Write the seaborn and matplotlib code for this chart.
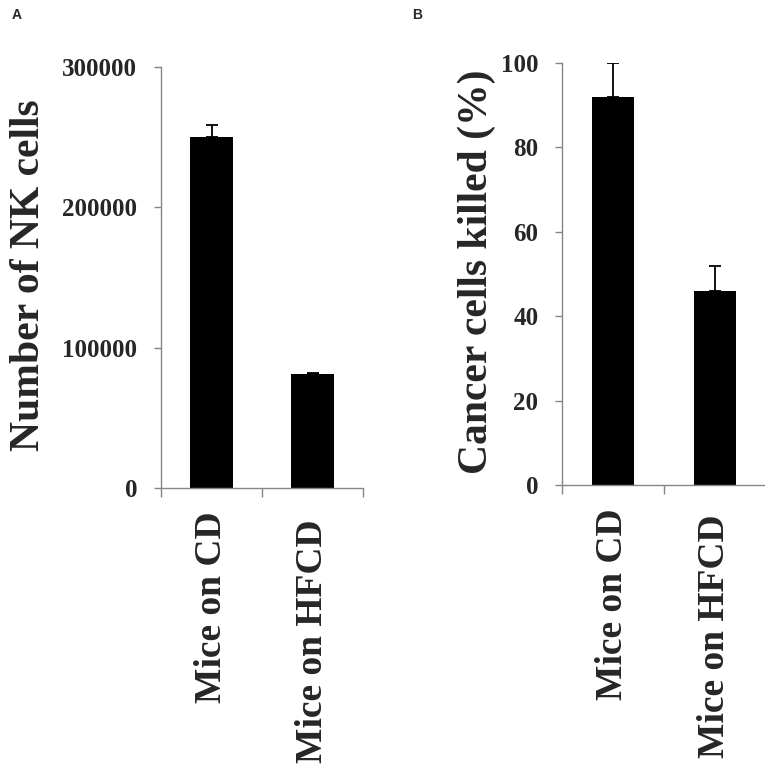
# Import libraries
import matplotlib
matplotlib.use("Agg")
import matplotlib.pyplot as plt
import matplotlib.transforms as mtransforms
from matplotlib.ticker import StrMethodFormatter
import seaborn as sns

# Data
groups = ["Mice on CD", "Mice on HFCD"]
nk_cells = [250000, 81000]
nk_err = [9000, 1000]
killed = [92, 46]
killed_err = [8, 6]

nk_ticks = [0, 100000, 200000, 300000]
killed_ticks = [0, 20, 40, 60, 80, 100]

# Set visualization style
sns.set_theme(style="white")
plt.rcParams["font.family"] = ["Liberation Serif", "DejaVu Serif"]
plt.rcParams["font.weight"] = "bold"

axis_gray = "#868686"


def style_panel(ax, values, errors, ticks, ylabel, label_x, label_offsets):
    sns.barplot(x=groups, y=values, color="black", width=0.42,
                errorbar=None, saturation=1, ax=ax, zorder=2,
                edgecolor="black", linewidth=0)
    ax.errorbar(x=list(range(len(groups))), y=values,
                yerr=[[0] * len(errors), errors], fmt="none",
                ecolor="black", elinewidth=1.3, capsize=4, capthick=1.3,
                zorder=1)

    ax.set_xlim(-0.5, 1.5)
    ax.set_ylim(ticks[0], ticks[-1])
    ax.set_yticks(ticks)
    ax.yaxis.set_major_formatter(StrMethodFormatter("{x:.0f}"))

    for side in ["top", "right"]:
        ax.spines[side].set_visible(False)
    for side in ["left", "bottom"]:
        ax.spines[side].set_color(axis_gray)
        ax.spines[side].set_linewidth(1.0)

    ax.tick_params(axis="y", left=True, length=5, width=1.0, color=axis_gray,
                   direction="out", pad=12, labelsize=18)
    ax.tick_params(axis="x", which="major", bottom=True, length=0, pad=17,
                   labelsize=27)
    ax.set_xticks([-0.5, 0.5, 1.5], minor=True)
    ax.tick_params(axis="x", which="minor", bottom=True, length=6.5,
                   width=1.0, color=axis_gray, direction="out")

    for lab, off in zip(ax.get_xticklabels(), label_offsets):
        lab.set_rotation(90)
        lab.set_va("top")
        lab.set_ha("center")
        lab.set_fontweight("bold")
        lab.set_transform(lab.get_transform() + mtransforms.ScaledTranslation(
            0, -off / 100, ax.figure.dpi_scale_trans))
    for lab in ax.get_yticklabels():
        lab.set_fontweight("bold")

    ax.set_xlabel("")
    ax.set_ylabel(ylabel, fontsize=30, fontweight="bold", va="center")
    ax.yaxis.set_label_coords(label_x, 0.505)


fig = plt.figure(figsize=(7.65, 7.72), dpi=100)

ax_a = fig.add_axes([161 / 765, 284 / 772, 202 / 765, 421 / 772])
style_panel(ax_a, nk_cells, nk_err, nk_ticks, "Number of NK cells",
            -0.655, [0, 8])

ax_b = fig.add_axes([562 / 765, 287 / 772, 204 / 765, 422 / 772])
style_panel(ax_b, killed, killed_err, killed_ticks, "Cancer cells killed (%)",
            -0.42, [0, 6])

# Panel letters
fig.text(12 / 765, 1 - 8 / 772, "A", family="Liberation Sans",
         fontweight="bold", fontsize=10, va="top", ha="left")
fig.text(412 / 765, 1 - 8 / 772, "B", family="Liberation Sans",
         fontweight="bold", fontsize=10, va="top", ha="left")

plt.savefig("out.png", dpi=100)
